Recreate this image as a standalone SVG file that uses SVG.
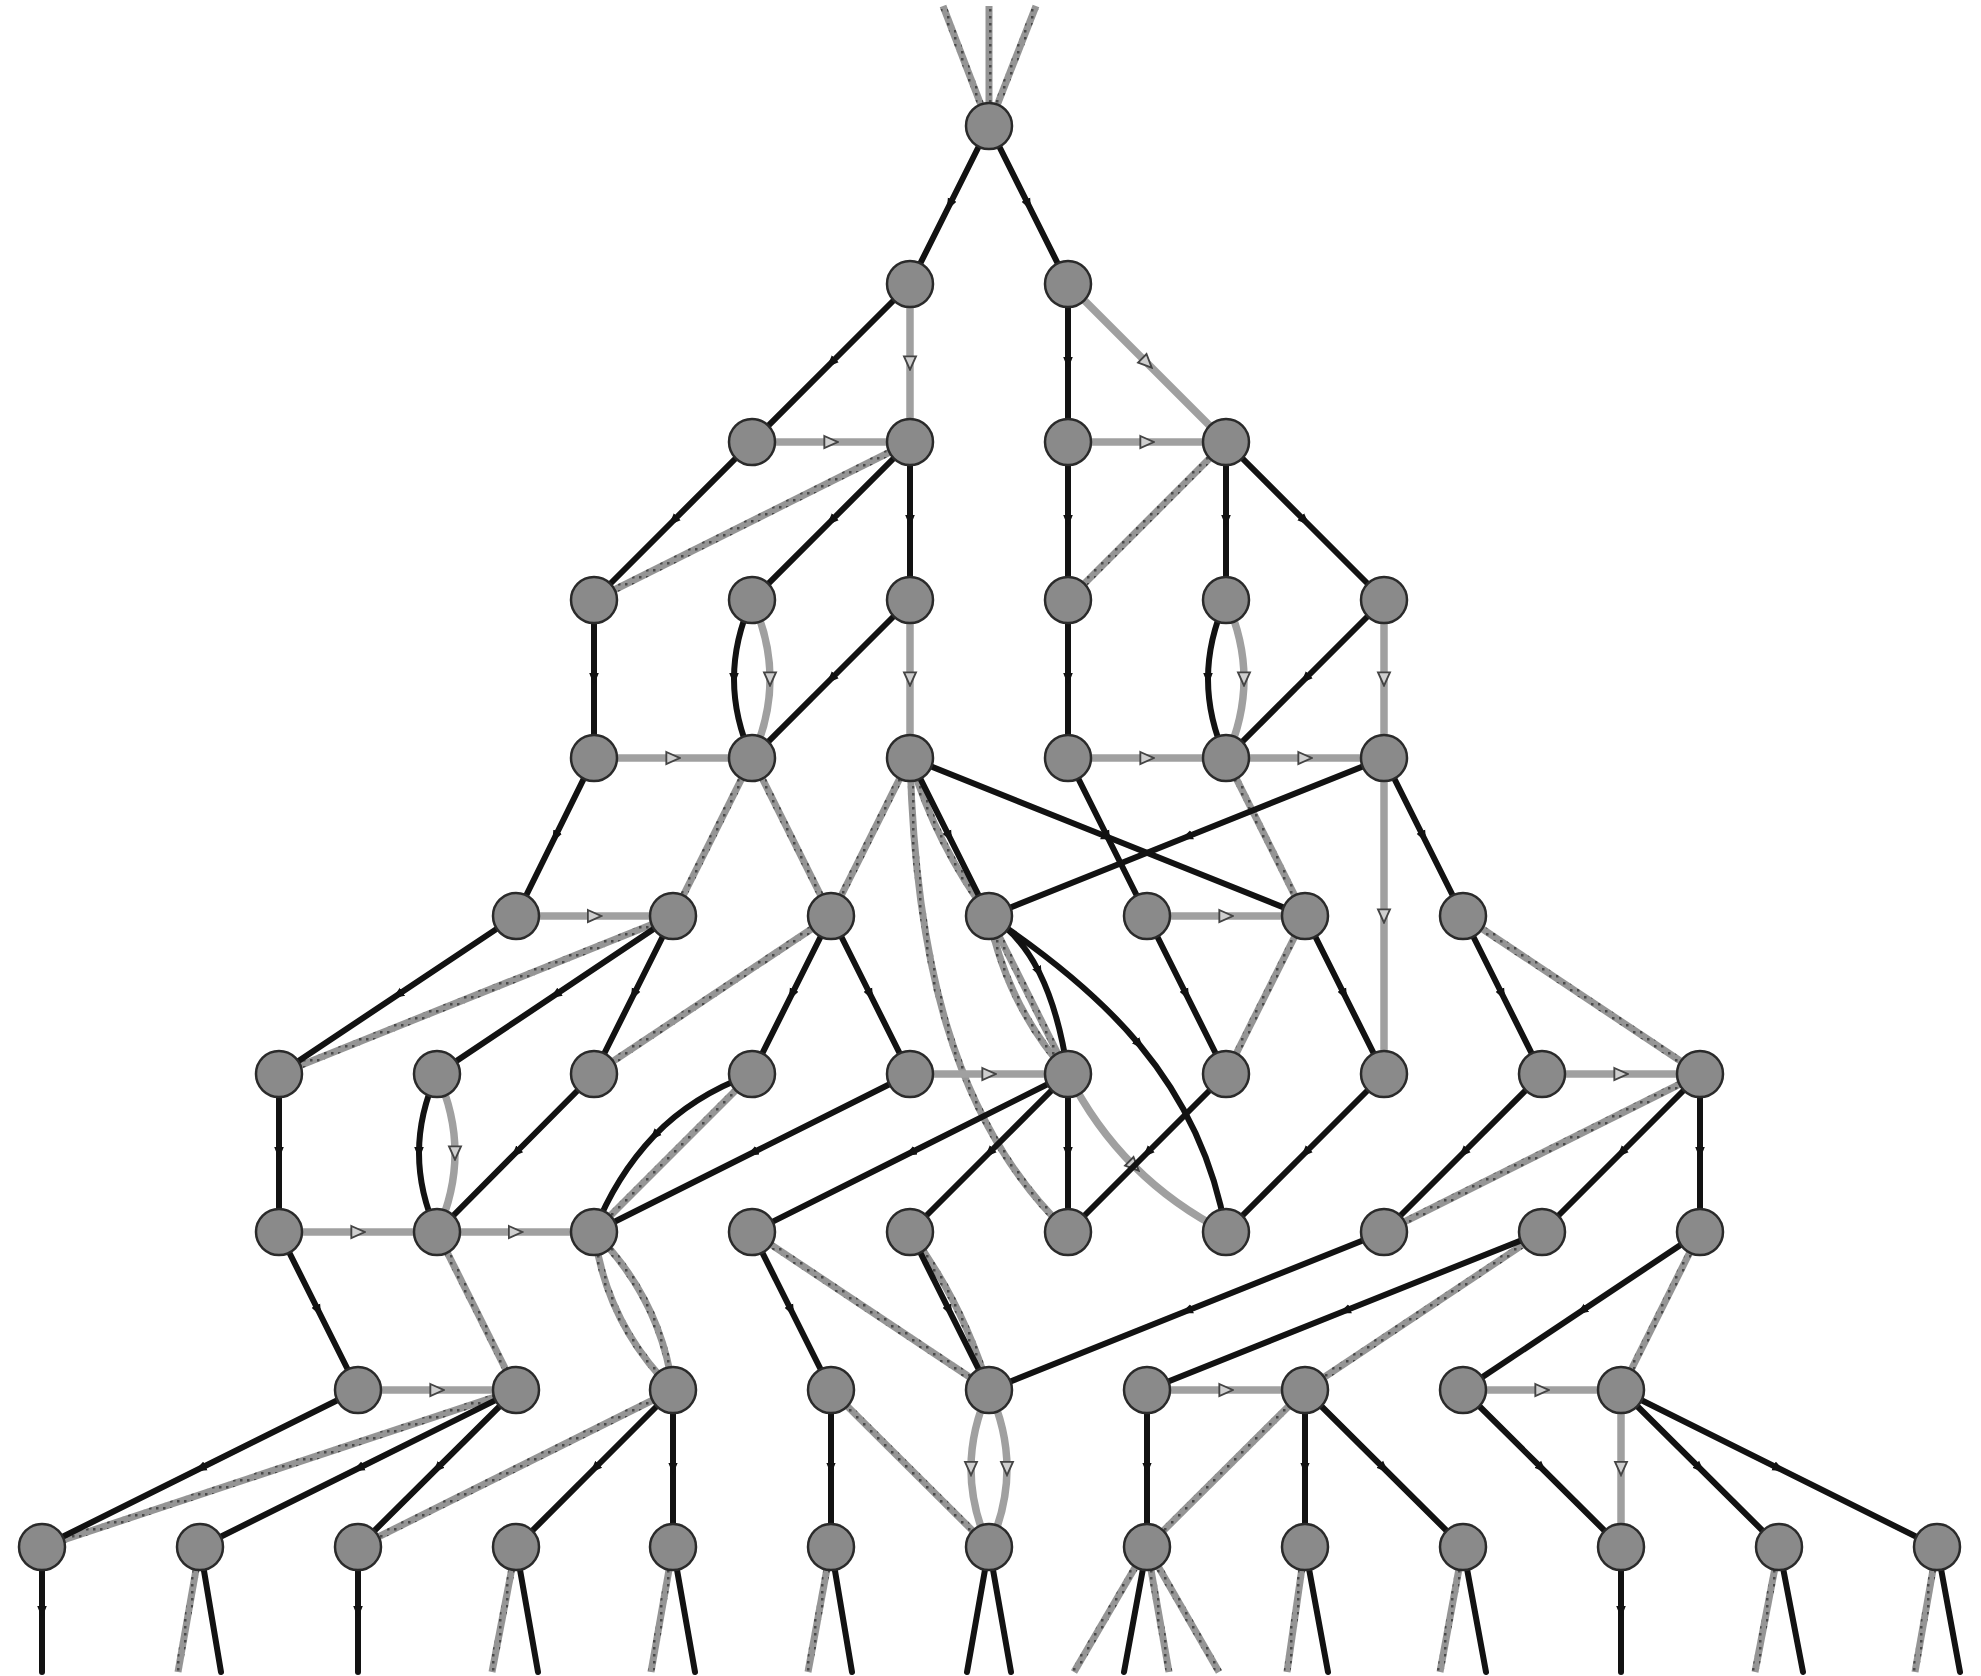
<svg xmlns="http://www.w3.org/2000/svg" width="1981" height="1676" viewBox="0 0 1981 1676">
<style>
.b{fill:none;stroke:#121212;stroke-width:6;stroke-linecap:round;marker-mid:url(#ab)}
.g{fill:none;stroke:#a0a0a0;stroke-width:7.5;marker-mid:url(#ag)}
.h{fill:none;stroke:url(#hp);stroke-width:7}
.node{fill:#8a8a8a;stroke:#2a2a2a;stroke-width:2.5}
</style>
<defs>
<pattern id="hp" width="7" height="7" patternUnits="userSpaceOnUse"><rect width="7" height="7" fill="#959595"/><rect x="2" y="2" width="2.5" height="2.5" fill="#4a4a4a"/></pattern>
<marker id="ab" viewBox="0 0 10 10" refX="5" refY="5" markerWidth="12" markerHeight="12" markerUnits="userSpaceOnUse" orient="auto"><path d="M0,1 L10,5 L0,9 z" fill="#111"/></marker>
<marker id="ag" viewBox="0 0 12 12" refX="6" refY="6" markerWidth="16" markerHeight="16" markerUnits="userSpaceOnUse" orient="auto"><path d="M1,1.5 L11,6 L1,10.5 z" fill="#cfcfcf" stroke="#444" stroke-width="1.4"/></marker>
</defs>
<rect width="1981" height="1676" fill="#ffffff"/>
<g id="connectors">
<g id="hatched">
<path class="h" d="M943,6 L989,126"/>
<path class="h" d="M989,6 L989,126"/>
<path class="h" d="M1036,6 L989,126"/>
<path class="h" d="M910,442 L594,600"/>
<path class="h" d="M1226,442 L1068,600"/>
<path class="h" d="M752,758 L673,916"/>
<path class="h" d="M752,758 L831,916"/>
<path class="h" d="M910,758 L831,916"/>
<path class="h" d="M910,758 Q935.5,844 989,916"/>
<path class="h" d="M910,758 C915,950 950,1120 1068,1232"/>
<path class="h" d="M1226,758 L1305,916"/>
<path class="h" d="M673,916 L279,1074"/>
<path class="h" d="M831,916 L594,1074"/>
<path class="h" d="M989,916 Q1007,1006 1068,1074"/>
<path class="h" d="M989,916 L1068,1074"/>
<path class="h" d="M1305,916 L1226,1074"/>
<path class="h" d="M1463,916 L1700,1074"/>
<path class="h" d="M752,1074 L594,1232"/>
<path class="h" d="M1700,1074 L1384,1232"/>
<path class="h" d="M437,1232 L516,1390"/>
<path class="h" d="M594,1232 Q606.5,1324 673,1390"/>
<path class="h" d="M594,1232 Q660.5,1298 673,1390"/>
<path class="h" d="M752,1232 L989,1390"/>
<path class="h" d="M910,1232 Q963.5,1304 989,1390"/>
<path class="h" d="M1542,1232 L1305,1390"/>
<path class="h" d="M1700,1232 L1621,1390"/>
<path class="h" d="M516,1390 L42,1547"/>
<path class="h" d="M673,1390 L358,1547"/>
<path class="h" d="M831,1390 L989,1547"/>
<path class="h" d="M1305,1390 L1147,1547"/>
<path class="h" d="M200,1547 L178,1672"/>
<path class="h" d="M516,1547 L492,1672"/>
<path class="h" d="M673,1547 L651,1672"/>
<path class="h" d="M831,1547 L808,1672"/>
<path class="h" d="M1147,1547 L1074,1672"/>
<path class="h" d="M1147,1547 L1169,1672"/>
<path class="h" d="M1147,1547 L1219,1672"/>
<path class="h" d="M1305,1547 L1287,1672"/>
<path class="h" d="M1463,1547 L1440,1672"/>
<path class="h" d="M1779,1547 L1755,1672"/>
<path class="h" d="M1937,1547 L1915,1672"/>
</g>
<g id="gray">
<path class="g" d="M910,284 L910,363 L910,442"/>
<path class="g" d="M1068,284 L1147,363 L1226,442"/>
<path class="g" d="M752,442 L831,442 L910,442"/>
<path class="g" d="M1068,442 L1147,442 L1226,442"/>
<path class="g" d="M752,600 Q770,639.5 770,679 Q770,718.5 752,758"/>
<path class="g" d="M910,600 L910,679 L910,758"/>
<path class="g" d="M1226,600 Q1244,639.5 1244,679 Q1244,718.5 1226,758"/>
<path class="g" d="M1384,600 L1384,679 L1384,758"/>
<path class="g" d="M594,758 L673,758 L752,758"/>
<path class="g" d="M1068,758 L1147,758 L1226,758"/>
<path class="g" d="M1226,758 L1305,758 L1384,758"/>
<path class="g" d="M1384,758 L1384,916 L1384,1074"/>
<path class="g" d="M516,916 L594.5,916 L673,916"/>
<path class="g" d="M1147,916 L1226,916 L1305,916"/>
<path class="g" d="M910,1074 L989,1074 L1068,1074"/>
<path class="g" d="M1542,1074 L1621,1074 L1700,1074"/>
<path class="g" d="M437,1074 Q455,1113.5 455,1153 Q455,1192.5 437,1232"/>
<path class="g" d="M1068,1074 Q1094.5,1126.5 1134,1166 Q1173.5,1205.5 1226,1232"/>
<path class="g" d="M279,1232 L358,1232 L437,1232"/>
<path class="g" d="M437,1232 L515.5,1232 L594,1232"/>
<path class="g" d="M358,1390 L437,1390 L516,1390"/>
<path class="g" d="M1147,1390 L1226,1390 L1305,1390"/>
<path class="g" d="M1463,1390 L1542,1390 L1621,1390"/>
<path class="g" d="M989,1390 Q971,1429 971,1468.5 Q971,1508 989,1547"/>
<path class="g" d="M989,1390 Q1007,1429 1007,1468.5 Q1007,1508 989,1547"/>
<path class="g" d="M1621,1390 L1621,1468.5 L1621,1547"/>
</g>
<g id="black">
<path class="b" d="M989,126 L949.5,205 L910,284"/>
<path class="b" d="M989,126 L1028.5,205 L1068,284"/>
<path class="b" d="M910,284 L831,363 L752,442"/>
<path class="b" d="M1068,284 L1068,363 L1068,442"/>
<path class="b" d="M752,442 L673,521 L594,600"/>
<path class="b" d="M910,442 L831,521 L752,600"/>
<path class="b" d="M910,442 L910,521 L910,600"/>
<path class="b" d="M1068,442 L1068,521 L1068,600"/>
<path class="b" d="M1226,442 L1226,521 L1226,600"/>
<path class="b" d="M1226,442 L1305,521 L1384,600"/>
<path class="b" d="M594,600 L594,679 L594,758"/>
<path class="b" d="M910,600 L831,679 L752,758"/>
<path class="b" d="M1068,600 L1068,679 L1068,758"/>
<path class="b" d="M1384,600 L1305,679 L1226,758"/>
<path class="b" d="M752,600 Q734,639.5 734,679 Q734,718.5 752,758"/>
<path class="b" d="M1226,600 Q1208,639.5 1208,679 Q1208,718.5 1226,758"/>
<path class="b" d="M594,758 L555,837 L516,916"/>
<path class="b" d="M910,758 L949.5,837 L989,916"/>
<path class="b" d="M910,758 L1107.5,837 L1305,916"/>
<path class="b" d="M1068,758 L1107.5,837 L1147,916"/>
<path class="b" d="M1384,758 L1186.5,837 L989,916"/>
<path class="b" d="M1384,758 L1423.5,837 L1463,916"/>
<path class="b" d="M516,916 L397.5,995 L279,1074"/>
<path class="b" d="M673,916 L555,995 L437,1074"/>
<path class="b" d="M673,916 L633.5,995 L594,1074"/>
<path class="b" d="M831,916 L791.5,995 L752,1074"/>
<path class="b" d="M831,916 L870.5,995 L910,1074"/>
<path class="b" d="M989,916 Q1019.5,933 1039.25,972.5 Q1059,1012 1068,1074"/>
<path class="b" d="M989,916 C1044.5,953 1097.25,994 1139.4,1044.75 C1181.5,1095.5 1213,1156 1226,1232"/>
<path class="b" d="M1147,916 L1186.5,995 L1226,1074"/>
<path class="b" d="M1305,916 L1344.5,995 L1384,1074"/>
<path class="b" d="M1463,916 L1502.5,995 L1542,1074"/>
<path class="b" d="M279,1074 L279,1153 L279,1232"/>
<path class="b" d="M437,1074 Q419,1113.5 419,1153 Q419,1192.5 437,1232"/>
<path class="b" d="M594,1074 L515.5,1153 L437,1232"/>
<path class="b" d="M752,1074 Q692,1096 654,1136 Q616,1176 594,1232"/>
<path class="b" d="M910,1074 L752,1153 L594,1232"/>
<path class="b" d="M1068,1074 L910,1153 L752,1232"/>
<path class="b" d="M1068,1074 L989,1153 L910,1232"/>
<path class="b" d="M1068,1074 L1068,1153 L1068,1232"/>
<path class="b" d="M1226,1074 L1147,1153 L1068,1232"/>
<path class="b" d="M1384,1074 L1305,1153 L1226,1232"/>
<path class="b" d="M1542,1074 L1463,1153 L1384,1232"/>
<path class="b" d="M1700,1074 L1621,1153 L1542,1232"/>
<path class="b" d="M1700,1074 L1700,1153 L1700,1232"/>
<path class="b" d="M279,1232 L318.5,1311 L358,1390"/>
<path class="b" d="M752,1232 L791.5,1311 L831,1390"/>
<path class="b" d="M910,1232 L949.5,1311 L989,1390"/>
<path class="b" d="M1384,1232 L1186.5,1311 L989,1390"/>
<path class="b" d="M1542,1232 L1344.5,1311 L1147,1390"/>
<path class="b" d="M1700,1232 L1581.5,1311 L1463,1390"/>
<path class="b" d="M358,1390 L200,1468.5 L42,1547"/>
<path class="b" d="M516,1390 L358,1468.5 L200,1547"/>
<path class="b" d="M516,1390 L437,1468.5 L358,1547"/>
<path class="b" d="M673,1390 L594.5,1468.5 L516,1547"/>
<path class="b" d="M673,1390 L673,1468.5 L673,1547"/>
<path class="b" d="M831,1390 L831,1468.5 L831,1547"/>
<path class="b" d="M1147,1390 L1147,1468.5 L1147,1547"/>
<path class="b" d="M1305,1390 L1305,1468.5 L1305,1547"/>
<path class="b" d="M1305,1390 L1384,1468.5 L1463,1547"/>
<path class="b" d="M1463,1390 L1542,1468.5 L1621,1547"/>
<path class="b" d="M1621,1390 L1700,1468.5 L1779,1547"/>
<path class="b" d="M1621,1390 L1779,1468.5 L1937,1547"/>
<path class="b" d="M42,1547 L42,1612 L42,1672"/>
<path class="b" d="M200,1547 L221,1672"/>
<path class="b" d="M358,1547 L358,1612 L358,1672"/>
<path class="b" d="M516,1547 L538,1672"/>
<path class="b" d="M673,1547 L695,1672"/>
<path class="b" d="M831,1547 L852,1672"/>
<path class="b" d="M989,1547 L967,1672"/>
<path class="b" d="M989,1547 L1011,1672"/>
<path class="b" d="M1147,1547 L1124,1672"/>
<path class="b" d="M1305,1547 L1328,1672"/>
<path class="b" d="M1463,1547 L1486,1672"/>
<path class="b" d="M1621,1547 L1621,1612 L1621,1672"/>
<path class="b" d="M1779,1547 L1803,1672"/>
<path class="b" d="M1937,1547 L1960,1672"/>
</g>
</g>
<g id="nodes">
<g id="n12-0"><circle class="node" cx="989" cy="126" r="23"/></g>
<g id="n11-1"><circle class="node" cx="910" cy="284" r="23"/></g>
<g id="n13-1"><circle class="node" cx="1068" cy="284" r="23"/></g>
<g id="n9-2"><circle class="node" cx="752" cy="442" r="23"/></g>
<g id="n11-2"><circle class="node" cx="910" cy="442" r="23"/></g>
<g id="n13-2"><circle class="node" cx="1068" cy="442" r="23"/></g>
<g id="n15-2"><circle class="node" cx="1226" cy="442" r="23"/></g>
<g id="n7-3"><circle class="node" cx="594" cy="600" r="23"/></g>
<g id="n9-3"><circle class="node" cx="752" cy="600" r="23"/></g>
<g id="n11-3"><circle class="node" cx="910" cy="600" r="23"/></g>
<g id="n13-3"><circle class="node" cx="1068" cy="600" r="23"/></g>
<g id="n15-3"><circle class="node" cx="1226" cy="600" r="23"/></g>
<g id="n17-3"><circle class="node" cx="1384" cy="600" r="23"/></g>
<g id="n7-4"><circle class="node" cx="594" cy="758" r="23"/></g>
<g id="n9-4"><circle class="node" cx="752" cy="758" r="23"/></g>
<g id="n11-4"><circle class="node" cx="910" cy="758" r="23"/></g>
<g id="n13-4"><circle class="node" cx="1068" cy="758" r="23"/></g>
<g id="n15-4"><circle class="node" cx="1226" cy="758" r="23"/></g>
<g id="n17-4"><circle class="node" cx="1384" cy="758" r="23"/></g>
<g id="n6-5"><circle class="node" cx="516" cy="916" r="23"/></g>
<g id="n8-5"><circle class="node" cx="673" cy="916" r="23"/></g>
<g id="n10-5"><circle class="node" cx="831" cy="916" r="23"/></g>
<g id="n12-5"><circle class="node" cx="989" cy="916" r="23"/></g>
<g id="n14-5"><circle class="node" cx="1147" cy="916" r="23"/></g>
<g id="n16-5"><circle class="node" cx="1305" cy="916" r="23"/></g>
<g id="n18-5"><circle class="node" cx="1463" cy="916" r="23"/></g>
<g id="n3-6"><circle class="node" cx="279" cy="1074" r="23"/></g>
<g id="n5-6"><circle class="node" cx="437" cy="1074" r="23"/></g>
<g id="n7-6"><circle class="node" cx="594" cy="1074" r="23"/></g>
<g id="n9-6"><circle class="node" cx="752" cy="1074" r="23"/></g>
<g id="n11-6"><circle class="node" cx="910" cy="1074" r="23"/></g>
<g id="n13-6"><circle class="node" cx="1068" cy="1074" r="23"/></g>
<g id="n15-6"><circle class="node" cx="1226" cy="1074" r="23"/></g>
<g id="n17-6"><circle class="node" cx="1384" cy="1074" r="23"/></g>
<g id="n19-6"><circle class="node" cx="1542" cy="1074" r="23"/></g>
<g id="n21-6"><circle class="node" cx="1700" cy="1074" r="23"/></g>
<g id="n3-7"><circle class="node" cx="279" cy="1232" r="23"/></g>
<g id="n5-7"><circle class="node" cx="437" cy="1232" r="23"/></g>
<g id="n7-7"><circle class="node" cx="594" cy="1232" r="23"/></g>
<g id="n9-7"><circle class="node" cx="752" cy="1232" r="23"/></g>
<g id="n11-7"><circle class="node" cx="910" cy="1232" r="23"/></g>
<g id="n13-7"><circle class="node" cx="1068" cy="1232" r="23"/></g>
<g id="n15-7"><circle class="node" cx="1226" cy="1232" r="23"/></g>
<g id="n17-7"><circle class="node" cx="1384" cy="1232" r="23"/></g>
<g id="n19-7"><circle class="node" cx="1542" cy="1232" r="23"/></g>
<g id="n21-7"><circle class="node" cx="1700" cy="1232" r="23"/></g>
<g id="n4-8"><circle class="node" cx="358" cy="1390" r="23"/></g>
<g id="n6-8"><circle class="node" cx="516" cy="1390" r="23"/></g>
<g id="n8-8"><circle class="node" cx="673" cy="1390" r="23"/></g>
<g id="n10-8"><circle class="node" cx="831" cy="1390" r="23"/></g>
<g id="n12-8"><circle class="node" cx="989" cy="1390" r="23"/></g>
<g id="n14-8"><circle class="node" cx="1147" cy="1390" r="23"/></g>
<g id="n16-8"><circle class="node" cx="1305" cy="1390" r="23"/></g>
<g id="n18-8"><circle class="node" cx="1463" cy="1390" r="23"/></g>
<g id="n20-8"><circle class="node" cx="1621" cy="1390" r="23"/></g>
<g id="n0-9"><circle class="node" cx="42" cy="1547" r="23"/></g>
<g id="n2-9"><circle class="node" cx="200" cy="1547" r="23"/></g>
<g id="n4-9"><circle class="node" cx="358" cy="1547" r="23"/></g>
<g id="n6-9"><circle class="node" cx="516" cy="1547" r="23"/></g>
<g id="n8-9"><circle class="node" cx="673" cy="1547" r="23"/></g>
<g id="n10-9"><circle class="node" cx="831" cy="1547" r="23"/></g>
<g id="n12-9"><circle class="node" cx="989" cy="1547" r="23"/></g>
<g id="n14-9"><circle class="node" cx="1147" cy="1547" r="23"/></g>
<g id="n16-9"><circle class="node" cx="1305" cy="1547" r="23"/></g>
<g id="n18-9"><circle class="node" cx="1463" cy="1547" r="23"/></g>
<g id="n20-9"><circle class="node" cx="1621" cy="1547" r="23"/></g>
<g id="n22-9"><circle class="node" cx="1779" cy="1547" r="23"/></g>
<g id="n24-9"><circle class="node" cx="1937" cy="1547" r="23"/></g>
</g>
</svg>
